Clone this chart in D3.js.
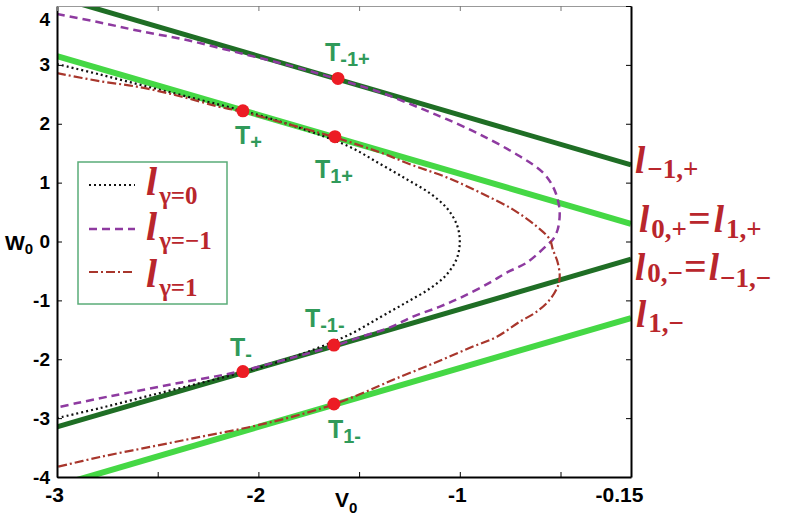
<!DOCTYPE html>
<html><head><meta charset="utf-8">
<script src="https://cdn.jsdelivr.net/npm/d3@7"></script>
<style>body{margin:0;background:#fff;} svg{display:block;}</style>
</head><body><svg id="c" width="795" height="517"></svg>
<script>
// ---------- data ----------
const xTickValues = [-3, -2.5, -2, -1.5, -1, -0.5, -0.15];
const xTickLabels = ["-3", "", "-2", "", "-1", "", "-0.15"];
const yTickValues = [-4, -3, -2, -1, 0, 1, 2, 3, 4];
const yTickLabels = ["-4", "-3", "-2", "-1", "0", "1", "2", "3", "4"];

// straight lines (v, w) endpoints
const lineMinus1Plus = [[-3, 4.15], [-0.15, 1.30]];   // l_{-1,+}
const line0Plus      = [[-3, 3.15], [-0.15, 0.30]];   // l_{0,+} = l_{1,+}
const line0Minus     = [[-3, -3.15], [-0.15, -0.30]]; // l_{0,-} = l_{-1,-}
const line1Minus     = [[-3, -4.15], [-0.15, -1.30]]; // l_{1,-}

// curve l_{gamma=0} (black dotted)
const curveGamma0 = [
  [-3.000, 3.013], [-2.787, 2.837], [-2.538, 2.620], [-2.290, 2.406], [-2.077, 2.222],
  [-1.878, 2.022], [-1.695, 1.810], [-1.536, 1.590], [-1.397, 1.320], [-1.263, 1.055],
  [-1.149, 0.820], [-1.065, 0.570], [-1.015, 0.289], [-1.000, 0.000], [-1.015, -0.289],
  [-1.065, -0.560], [-1.149, -0.800], [-1.263, -1.030], [-1.397, -1.290], [-1.536, -1.560],
  [-1.695, -1.795], [-1.878, -2.020], [-2.077, -2.220], [-2.290, -2.405], [-2.538, -2.615],
  [-2.787, -2.830], [-3.000, -3.000]
];
// curve l_{gamma=-1} (purple dashed)
const curveGammaMinus1 = [
  [-3.000, 3.864], [-2.787, 3.720], [-2.588, 3.574], [-2.355, 3.421], [-2.092, 3.200],
  [-1.829, 2.975], [-1.605, 2.755], [-1.397, 2.536], [-1.184, 2.247], [-1.065, 2.077],
  [-0.901, 1.821], [-0.702, 1.447], [-0.588, 1.174], [-0.538, 0.936], [-0.514, 0.715],
  [-0.504, 0.494], [-0.514, 0.204], [-0.538, 0.034], [-0.560, -0.040], [-0.667, -0.357],
  [-0.767, -0.528], [-0.851, -0.698], [-0.985, -0.936], [-1.099, -1.106], [-1.233, -1.277],
  [-1.347, -1.460], [-1.496, -1.625], [-1.625, -1.775], [-1.829, -1.971], [-2.077, -2.193],
  [-2.200, -2.282], [-2.375, -2.389], [-2.550, -2.505], [-2.750, -2.637], [-2.900, -2.744],
  [-3.000, -2.819]
];
// curve l_{gamma=1} (red dash-dot)
const curveGamma1 = [
  [-3.000, 2.860], [-2.787, 2.723], [-2.588, 2.621], [-2.390, 2.468], [-2.206, 2.298],
  [-2.077, 2.200], [-1.844, 1.985], [-1.620, 1.768], [-1.397, 1.515], [-1.233, 1.294],
  [-1.065, 1.089], [-0.901, 0.834], [-0.737, 0.545], [-0.618, 0.255], [-0.553, 0.034],
  [-0.538, -0.136], [-0.514, -0.357], [-0.504, -0.596], [-0.514, -0.766], [-0.553, -0.987],
  [-0.618, -1.191], [-0.702, -1.362], [-0.816, -1.617], [-0.935, -1.785], [-1.065, -1.975],
  [-1.184, -2.144], [-1.313, -2.323], [-1.397, -2.447], [-1.500, -2.600], [-1.625, -2.765],
  [-1.829, -2.975], [-2.042, -3.150], [-2.290, -3.319], [-2.538, -3.489], [-2.787, -3.660],
  [-3.000, -3.830]
];

// tangent points
const tangentNames = ["-1+", "+", "1+", "-", "-1-", "1-"];
const tangentV = [-1.605, -2.077, -1.620, -2.077, -1.625, -1.625];
const tangentW = [2.77, 2.22, 1.78, -2.21, -1.76, -2.76];

// ---------- drawing ----------
const L = 57, R = 631, T = 6, B = 477;
const x = d3.scaleLinear().domain([-3, -0.15]).range([L, R]);
const y = d3.scaleLinear().domain([-4, 4]).range([B, T]);
const svg = d3.select("#c");
svg.append("rect").attr("width", 795).attr("height", 517).attr("fill", "#fff");
svg.append("defs").append("clipPath").attr("id", "clip")
  .append("rect").attr("x", L).attr("y", T).attr("width", R - L).attr("height", B - T);

const plot = svg.append("g").attr("clip-path", "url(#clip)");
const line = d3.line().x(d => x(d[0])).y(d => y(d[1]));
const smooth = d3.line().x(d => x(d[0])).y(d => y(d[1])).curve(d3.curveCatmullRom.alpha(0.5));

const darkGreen = "#1f6e25", lightGreen = "#45d845";
[[lineMinus1Plus, darkGreen, 5], [line0Minus, darkGreen, 5],
 [line0Plus, lightGreen, 6], [line1Minus, lightGreen, 6]].forEach(([d, c, w]) => {
  plot.append("path").attr("d", line(d)).attr("fill", "none")
    .attr("stroke", c).attr("stroke-width", w);
});

const styles = {
  g0: {c: "#111", w: 2.2, dash: "2,3"},
  gm1: {c: "#8e3aa0", w: 2.5, dash: "8,5"},
  g1: {c: "#a8362c", w: 2.2, dash: "9,3,2,3"}
};
[[curveGamma0, styles.g0], [curveGammaMinus1, styles.gm1], [curveGamma1, styles.g1]].forEach(([d, s]) => {
  plot.append("path").attr("d", smooth(d)).attr("fill", "none")
    .attr("stroke", s.c).attr("stroke-width", s.w).attr("stroke-dasharray", s.dash);
});

// tangent dots
plot.selectAll("circle.t").data(tangentV).join("circle")
  .attr("cx", d => x(d)).attr("cy", (d, i) => y(tangentW[i])).attr("r", 6.5).attr("fill", "#ec1c24");

// tangent labels
const tOffsets = [[-13, -17], [-8, 33], [-20, 41], [-13, -16], [-29, -18], [-6, 34]];
const tGreen = "#309a5a";
tangentNames.forEach((n, i) => {
  const t = svg.append("text")
    .attr("x", x(tangentV[i]) + tOffsets[i][0]).attr("y", y(tangentW[i]) + tOffsets[i][1])
    .attr("fill", tGreen).attr("font-family", "'Liberation Sans', Arial, sans-serif")
    .attr("font-weight", "bold").attr("font-size", 25);
  t.append("tspan").text("T");
  t.append("tspan").attr("font-size", 20).attr("dy", 5).text(n);
});

// axes
const fontAxis = "'Liberation Sans', Arial, sans-serif";
const xAxis = svg.append("g").attr("transform", `translate(0,${B})`)
  .call(d3.axisBottom(x).tickValues(xTickValues).tickSize(-5).tickSizeOuter(0).tickPadding(10)
    .tickFormat((d, i) => xTickLabels[i]));
xAxis.selectAll("text").attr("font-size", 21).attr("font-weight", "bold")
  .attr("font-family", fontAxis).attr("fill", "#000").attr("dx", -3);
xAxis.selectAll("text").filter((d, i) => xTickLabels[i] === "-0.15").attr("dx", -12);

const yAxis = svg.append("g").attr("transform", `translate(${L},0)`)
  .call(d3.axisLeft(y).tickValues(yTickValues).tickSize(-5).tickSizeOuter(0).tickPadding(7)
    .tickFormat((d, i) => yTickLabels[i]));
yAxis.selectAll("text").attr("font-size", 19).attr("font-weight", "bold")
  .attr("font-family", fontAxis).attr("fill", "#000");
yAxis.selectAll("text").filter(d => d === 4).attr("dy", "1.0em");

const topAxis = svg.append("g").attr("transform", `translate(0,${T})`)
  .call(d3.axisTop(x).tickValues(xTickValues).tickSize(-5).tickSizeOuter(0).tickFormat(""));
topAxis.select(".domain").attr("stroke", "#999");
topAxis.selectAll(".tick line").attr("stroke", "#777");
const rightAxis = svg.append("g").attr("transform", `translate(${R},0)`)
  .call(d3.axisRight(y).tickValues(yTickValues).tickSize(-5).tickSizeOuter(0).tickFormat(""));
[xAxis, yAxis, rightAxis].forEach(a => a.select(".domain").attr("stroke-width", 2));

// axis titles
const wl = svg.append("text").attr("x", 5).attr("y", 250).attr("font-family", fontAxis)
  .attr("font-weight", "bold").attr("font-size", 21);
wl.append("tspan").text("W");
wl.append("tspan").attr("font-size", 15).attr("dy", 4).text("0");
const vl = svg.append("text").attr("x", 335).attr("y", 507).attr("font-family", fontAxis)
  .attr("font-weight", "bold").attr("font-size", 21);
vl.append("tspan").text("V");
vl.append("tspan").attr("font-size", 15).attr("dy", 6).text("0");

// legend
const red = "#b9262c";
const serif = "'Liberation Serif', 'Times New Roman', serif";
const legend = svg.append("g");
legend.append("rect").attr("x", 78).attr("y", 162).attr("width", 149).attr("height", 142)
  .attr("fill", "#fff").attr("stroke", "#5aac78").attr("stroke-width", 1.5);
const legendItems = [
  {s: styles.g0, sub: "γ=0", ly: 185, ty: 195},
  {s: styles.gm1, sub: "γ=−1", ly: 229, ty: 240},
  {s: styles.g1, sub: "γ=1", ly: 272, ty: 287}
];
legendItems.forEach(it => {
  legend.append("line").attr("x1", 89).attr("x2", 135).attr("y1", it.ly).attr("y2", it.ly)
    .attr("stroke", it.s.c).attr("stroke-width", it.s.w).attr("stroke-dasharray", it.s.dash);
  const t = legend.append("text").attr("x", 146).attr("y", it.ty).attr("fill", red)
    .attr("font-family", serif).attr("font-weight", "bold");
  t.append("tspan").attr("font-style", "italic").attr("font-size", 40).text("l");
  t.append("tspan").attr("font-size", 25).attr("dx", 2).attr("dy", 9).text(it.sub);
});

// right-side line labels
function lab(xp, yp, parts) {
  const t = svg.append("text").attr("x", xp).attr("y", yp).attr("fill", red)
    .attr("font-family", serif).attr("font-weight", "bold");
  parts.forEach(p => {
    const s = t.append("tspan").text(p.t).attr("font-size", p.fs).attr("dy", p.dy || 0)
      .attr("dx", p.dx || 0);
    if (p.it) s.attr("font-style", "italic");
  });
}
lab(635, 173, [{t: "l", fs: 37, it: 1}, {t: "−1,+", fs: 27, dy: 5, dx: 2}]);
lab(639, 232, [{t: "l", fs: 37, it: 1}, {t: "0,+", fs: 27, dy: 6, dx: 2}, {t: "=", fs: 40, dy: -6, dx: 1},
               {t: "l", fs: 37, it: 1, dx: 3}, {t: "1,+", fs: 27, dy: 6, dx: 2}]);
lab(635, 280, [{t: "l", fs: 37, it: 1}, {t: "0,−", fs: 27, dy: 2, dx: 2}, {t: "=", fs: 40, dy: -2, dx: 1},
               {t: "l", fs: 37, it: 1, dx: 2}, {t: "−1,−", fs: 27, dy: 7, dx: 1}]);
lab(636, 327, [{t: "l", fs: 37, it: 1}, {t: "1,−", fs: 27, dy: 5, dx: 2}]);
</script></body></html>
